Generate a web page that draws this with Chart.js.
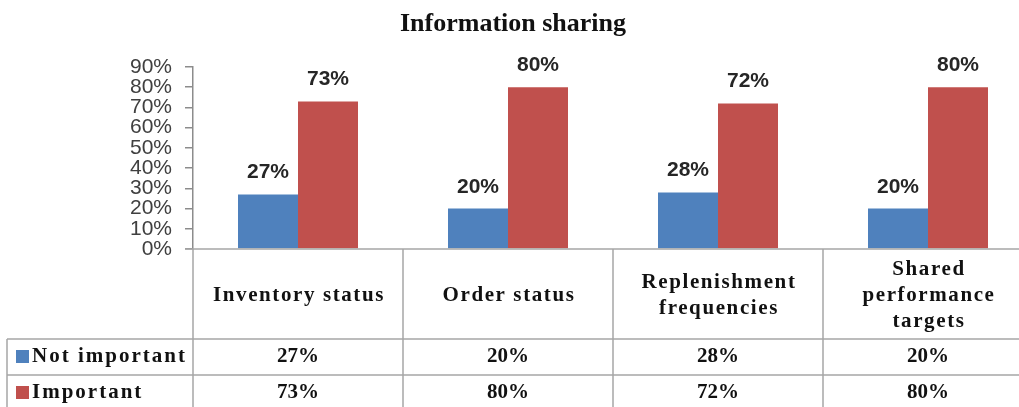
<!DOCTYPE html>
<html>
<head>
<meta charset="utf-8">
<script src="https://cdn.jsdelivr.net/npm/chart.js@4/dist/chart.umd.min.js"></script>
<style>
  html, body { margin: 0; padding: 0; background: #fff; overflow: hidden; }
  #wrap { width: 1040px; height: 407px; }
</style>
</head>
<body>
<div id="wrap"><canvas id="chart"></canvas></div>
<script>
const chartTitle = "Information sharing";
const categories = [
  ["Inventory status"],
  ["Order status"],
  ["Replenishment", "frequencies"],
  ["Shared", "performance", "targets"],
];
const notImportant = [27, 20, 28, 20];
const important = [73, 80, 72, 80];
const yTicks = [0, 10, 20, 30, 40, 50, 60, 70, 80, 90];

const blue = "#4F81BD";
const red = "#C0504D";
const lineGray = "#a6a6a6";
const serif = "'Liberation Serif', 'Times New Roman', serif";

// labels above each bar
const barLabels = {
  id: "barLabels",
  afterDatasetsDraw(chart) {
    const ctx = chart.ctx;
    ctx.save();
    ctx.font = "bold 21px 'Liberation Sans', Arial, sans-serif";
    ctx.fillStyle = "#262626";
    ctx.textAlign = "center";
    ctx.textBaseline = "alphabetic";
    chart.data.datasets.forEach((ds, i) => {
      chart.getDatasetMeta(i).data.forEach((bar, j) => {
        ctx.fillText(ds.data[j] + "%", bar.x, bar.y - 16);
      });
    });
    ctx.restore();
  },
};

// title + the data table under the plot
const dataTable = {
  id: "dataTable",
  afterDraw(chart) {
    const ctx = chart.ctx;
    const x = chart.scales.x;
    const area = chart.chartArea;
    const half = (x.getPixelForValue(1) - x.getPixelForValue(0)) / 2;
    const top = area.bottom;
    const row1 = top + 90;
    const row2 = row1 + 36;
    const bottom = chart.height + 5;
    const tableLeft = 7;

    ctx.save();
    ctx.fillStyle = "#111";
    ctx.textAlign = "center";
    ctx.textBaseline = "alphabetic";
    ctx.font = "bold 26px " + serif;
    ctx.fillText(chartTitle, 513, 31);

    // grid lines
    ctx.strokeStyle = lineGray;
    ctx.lineWidth = 1.5;
    ctx.beginPath();
    ctx.moveTo(area.left - 8, top);
    ctx.lineTo(chart.width, top);
    ctx.moveTo(tableLeft, row1);
    ctx.lineTo(chart.width, row1);
    ctx.moveTo(tableLeft, row2);
    ctx.lineTo(chart.width, row2);
    ctx.moveTo(tableLeft, row1);
    ctx.lineTo(tableLeft, bottom);
    for (let i = 0; i < categories.length; i++) {
      const left = x.getPixelForValue(i) - half;
      ctx.moveTo(left, top);
      ctx.lineTo(left, bottom);
    }
    ctx.stroke();

    // header row
    ctx.textBaseline = "middle";
    ctx.fillStyle = "#111";
    ctx.font = "bold 21px " + serif;
    ctx.letterSpacing = "1.6px";
    const lh = 26;
    categories.forEach((lines, i) => {
      const cx = x.getPixelForValue(i) + 1;
      const cy = (top + row1) / 2 + 2;
      lines.forEach((t, k) => {
        ctx.fillText(t, cx, cy + (k - (lines.length - 1) / 2) * lh);
      });
    });

    // value rows
    const rows = [
      { name: "Not important", color: blue, data: notImportant, y: (row1 + row2) / 2 },
      { name: "Important", color: red, data: important, y: row2 + 18 },
    ];
    rows.forEach((r) => {
      ctx.fillStyle = r.color;
      ctx.fillRect(16, r.y - 7, 13, 13);
      ctx.fillStyle = "#111";
      ctx.textAlign = "left";
      ctx.font = "bold 21px " + serif;
      ctx.letterSpacing = "2px";
      ctx.fillText(r.name, 32, r.y);
      ctx.textAlign = "center";
      ctx.font = "bold 21px " + serif;
      ctx.letterSpacing = "0px";
      r.data.forEach((v, i) => {
        ctx.fillText(v + "%", x.getPixelForValue(i), r.y);
      });
    });
    ctx.restore();
  },
};

new Chart(document.getElementById("chart"), {
  type: "bar",
  data: {
    labels: categories,
    datasets: [
      { label: "Not important", data: notImportant, backgroundColor: blue },
      { label: "Important", data: important, backgroundColor: red },
    ],
  },
  options: {
    responsive: true,
    maintainAspectRatio: false,
    animation: false,
    layout: { padding: { top: 67, right: 7, bottom: 158, left: 0 } },
    datasets: {
      bar: { categoryPercentage: 0.5714, barPercentage: 1, borderWidth: 0 },
    },
    plugins: {
      legend: { display: false },
      title: { display: false },
      tooltip: { enabled: false },
    },
    scales: {
      x: { display: false },
      y: {
        min: 0,
        max: 90,
        afterFit: (scale) => { scale.width = 193; },
        afterBuildTicks: (scale) => { scale.ticks = yTicks.map((v) => ({ value: v })); },
        ticks: {
          autoSkip: false,
          padding: 13,
          color: "#404040",
          font: { family: "'Liberation Sans', Arial, sans-serif", size: 21 },
          callback: (v) => v + "%",
        },
        grid: { drawOnChartArea: false, drawTicks: true, tickLength: 8, color: "#8c8c8c", lineWidth: 1.5 },
        border: { display: true, color: "#8c8c8c", width: 1.5 },
      },
    },
  },
  plugins: [barLabels, dataTable],
});
</script>
</body>
</html>
